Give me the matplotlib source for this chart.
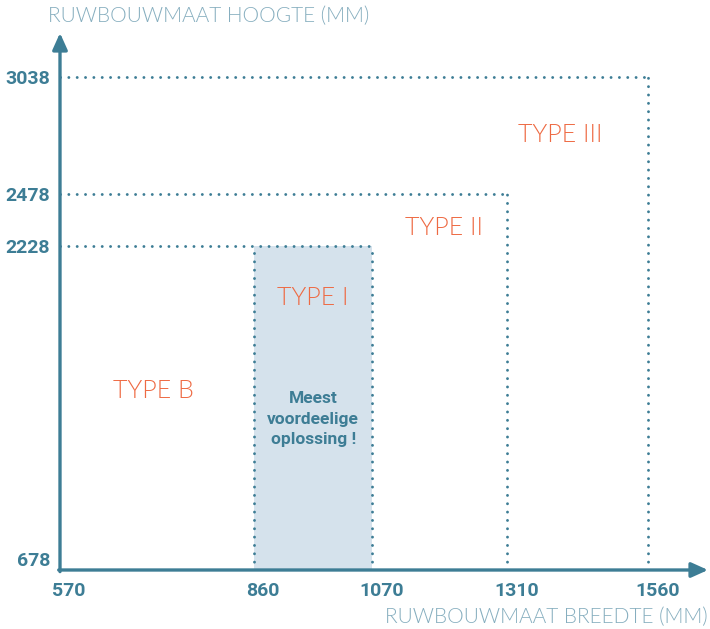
"""
Ruwbouwmaat schema: breedte x hoogte per type.
"""

import numpy as np
import matplotlib
matplotlib.use('Agg')
import matplotlib.pyplot as plt
from matplotlib.transforms import ScaledTranslation

# data
x_ticks = [570, 860, 1070, 1310, 1560]
y_ticks = [678, 2228, 2478, 3038]
type_names = ['TYPE I', 'TYPE II', 'TYPE III']
type_widths = [1070, 1310, 1560]
type_heights = [2228, 2478, 3038]
best_from = 860
best_to = 1070
best_text = 'Meest\nvoordeelige\noplossing !'

AXIS = '#3d7d95'
LABEL = '#86aebf'
ORANGE = '#ee6a43'
FILL = '#d5e2ec'

fig = plt.figure(figsize=(7.1, 6.29), dpi=100)
W, H = 710, 629
ax = fig.add_axes([60 / W, (H - 570) / H, (708 - 60) / W, (570 - 33) / H])

# first segment (570-860) is drawn stretched, rest is linear
stretch = 1.188
def fwd(v):
    v = np.asarray(v, dtype=float)
    return np.where(v < 860, 860 - (860 - v) * stretch, v)

def inv(u):
    u = np.asarray(u, dtype=float)
    return np.where(u < 860, 860 - (860 - u) / stretch, u)

ax.set_xscale('function', functions=(fwd, inv))
ax.set_xlim(570, 1666)
ax.set_ylim(678, 3247)

for s in ax.spines.values():
    s.set_visible(False)
ax.set_facecolor('none')

# shaded "best" area
ax.fill_between([best_from, best_to], 678, type_heights[0], color=FILL,
                lw=0, zorder=1)

dot = dict(color=AXIS, lw=2.1, linestyle=(0, (0.01, 2.85)),
           dash_capstyle='round', zorder=2)
for w, h in zip(type_widths, type_heights):
    ax.plot([570, w], [h, h], **dot)
    ax.plot([w, w], [678, h], **dot)
ax.plot([best_from, best_from], [678, type_heights[0]], **dot)

# axes with arrows
arrow = dict(arrowstyle='-|>,head_length=1.0,head_width=0.45', color=AXIS,
             lw=2.4, shrinkA=0, shrinkB=0)
ax.annotate('', xy=(1, 0), xytext=(-0.002, 0), xycoords='axes fraction',
            arrowprops=arrow, zorder=5)
ax.annotate('', xy=(0, 1), xytext=(0, -0.003), xycoords='axes fraction',
            arrowprops=arrow, zorder=5)

tick_font = dict(family=['Roboto', 'DejaVu Sans'], weight='bold', size=14)
ax.set_xticks(x_ticks)
ax.set_xticklabels([str(v) for v in x_ticks], color=AXIS, **tick_font)
ax.set_yticks(y_ticks)
ax.set_yticklabels([str(v) for v in y_ticks], color=AXIS, **tick_font)
ax.tick_params(length=0)
ax.tick_params(axis='x', pad=9)
ax.tick_params(axis='y', pad=7)
ax.xaxis.set_minor_locator(matplotlib.ticker.NullLocator())

shift = ScaledTranslation(9 / 100, 0, fig.dpi_scale_trans)
for lab in ax.get_xticklabels():
    lab.set_transform(lab.get_transform() + shift)
up = ScaledTranslation(0, 11 / 100, fig.dpi_scale_trans)
ax.get_yticklabels()[0].set_transform(ax.get_yticklabels()[0].get_transform() + up)

title_font = dict(family=['Lato', 'DejaVu Sans'], weight=300, size=15,
                  color=LABEL)
fig.text(48 / W, 1 - 16 / H, 'RUWBOUWMAAT HOOGTE (MM)', ha='left',
         va='center', **title_font)
fig.text(708 / W, 1 - 617 / H, 'RUWBOUWMAAT BREEDTE (MM)', ha='right',
         va='center', **title_font)

type_font = dict(family=['Lato', 'DejaVu Sans'], weight=300, size=18,
                 color=ORANGE, ha='center', va='center')
ax.text(709, 1534, 'TYPE B', **type_font)
ax.text(965, 1979, type_names[0], **type_font)
ax.text(1197, 2314, type_names[1], **type_font)
ax.text(1403, 2759, type_names[2], **type_font)

ax.text((best_from + best_to) / 2, 1400, best_text, ha='center', va='center',
        family=['Roboto', 'DejaVu Sans'], weight='bold', size=12.5,
        color=AXIS, linespacing=1.45)

fig.savefig('out.png', dpi=100)
